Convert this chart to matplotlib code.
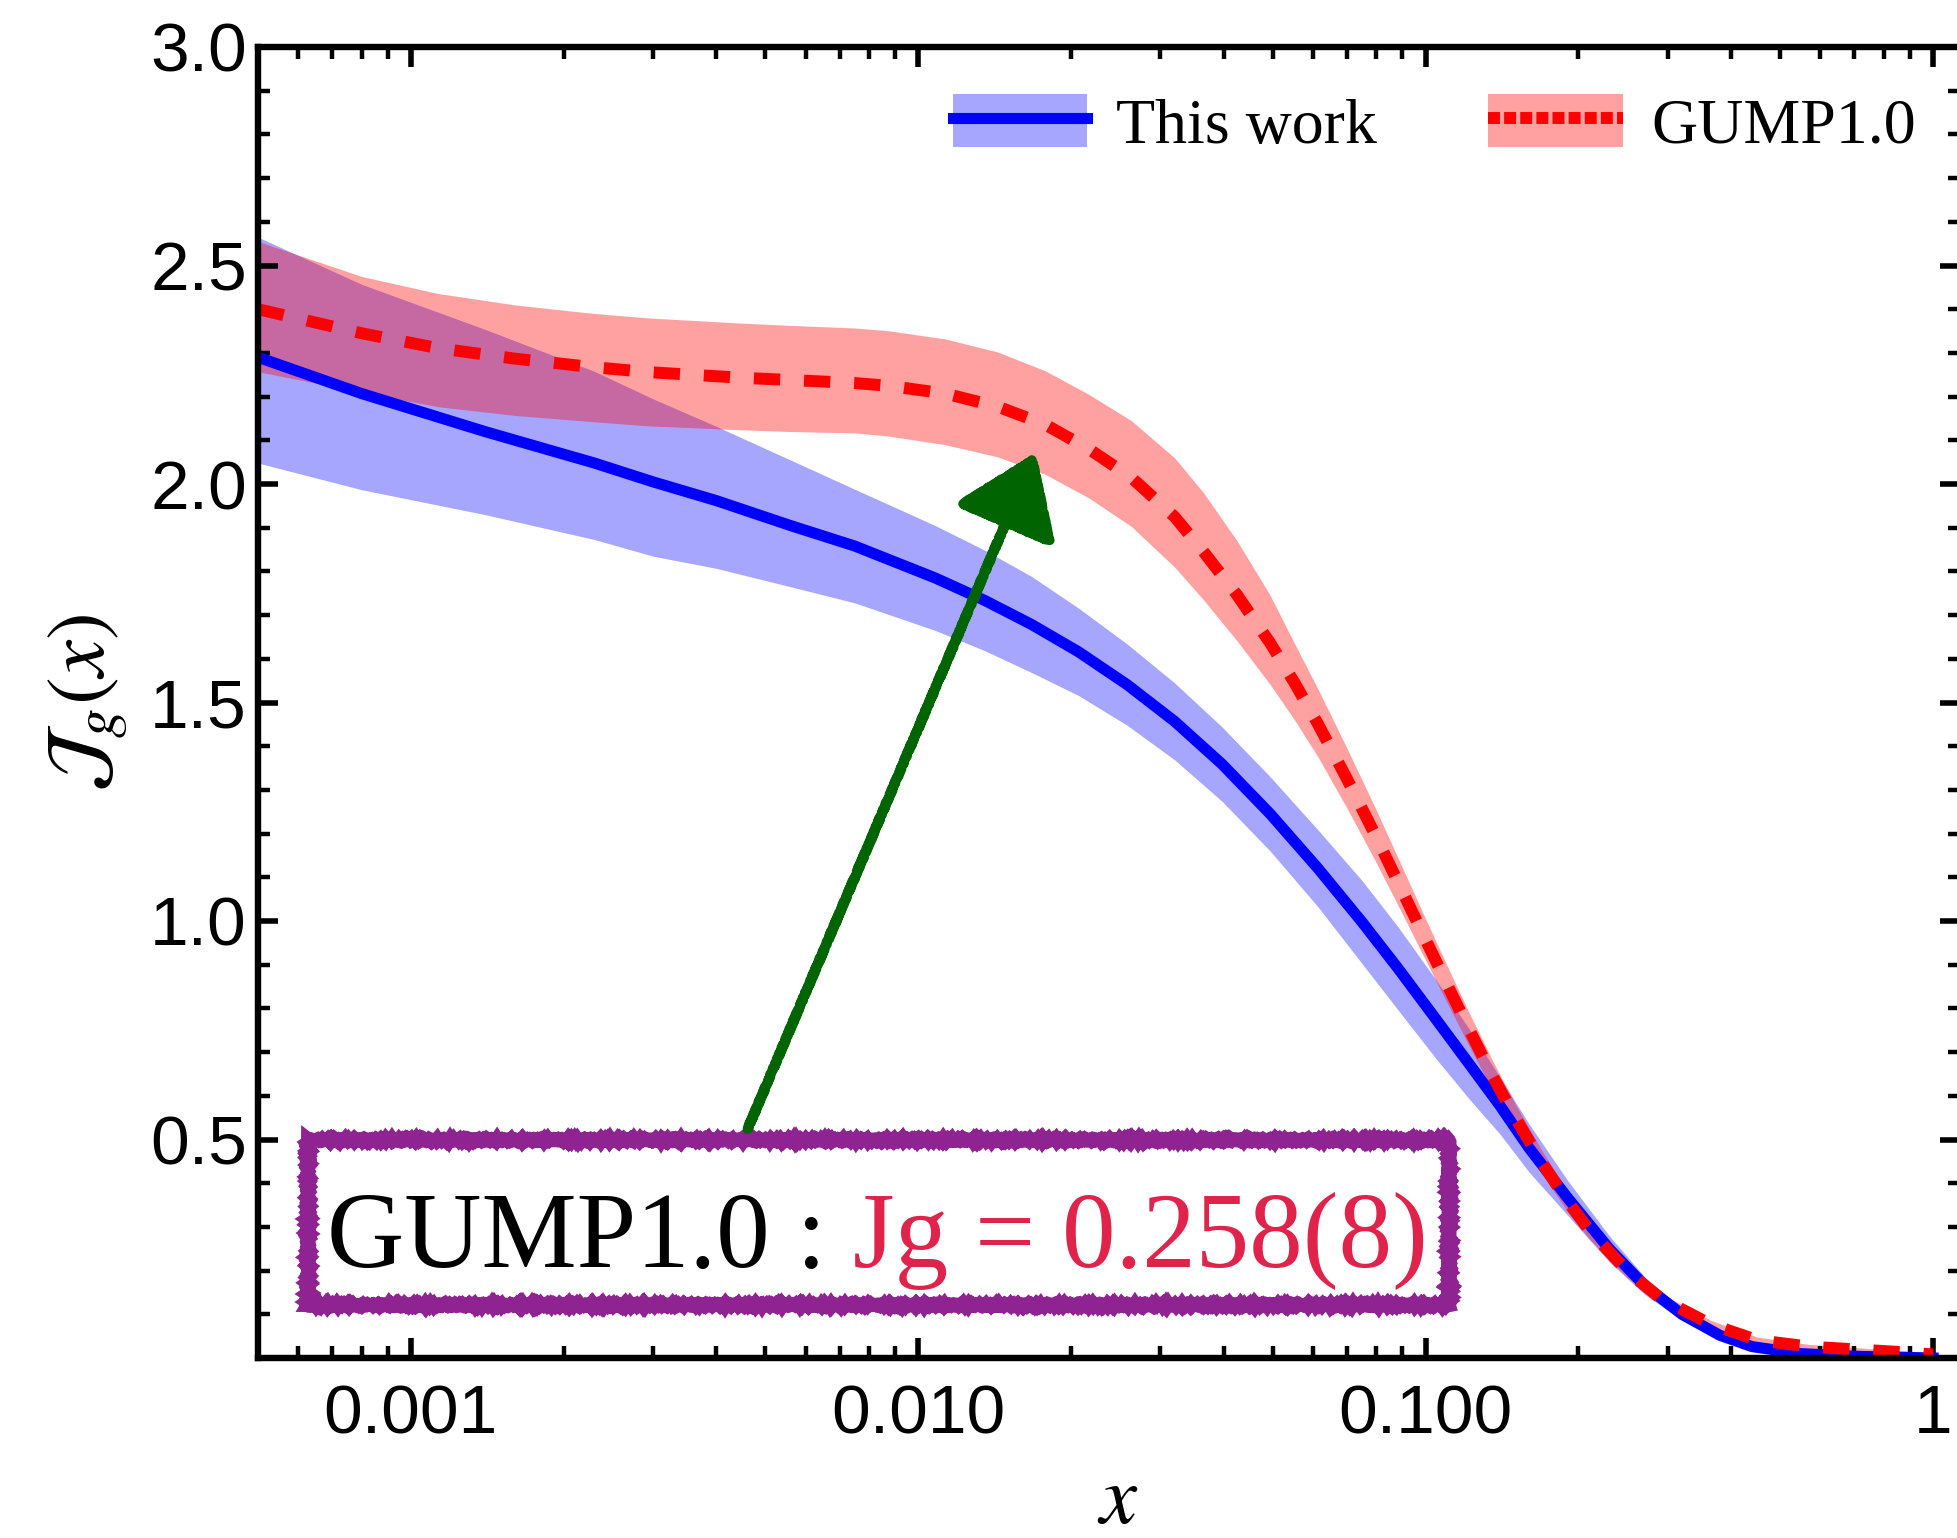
import numpy as np
import matplotlib
matplotlib.use("Agg")
import matplotlib.pyplot as plt
from matplotlib.patches import Patch, Rectangle
from matplotlib.lines import Line2D
from matplotlib.ticker import LogLocator, FixedLocator, MultipleLocator, NullFormatter

# -----------------------------
# Data
# -----------------------------
# This work (blue): central value and band edges
x_blue = [0.0005, 0.0008, 0.0014, 0.0023, 0.003, 0.004, 0.0056, 0.0075, 0.0108, 0.0135,
          0.0167, 0.0207, 0.0258, 0.032, 0.0397, 0.0494, 0.0614, 0.075, 0.0883, 0.105,
          0.122, 0.14, 0.16, 0.19, 0.23, 0.27, 0.32, 0.38, 0.44, 0.55, 0.7, 1.0]
jg_blue = [2.29, 2.207, 2.12, 2.048, 2.005, 1.962, 1.905, 1.858, 1.785, 1.734,
           1.679, 1.616, 1.541, 1.457, 1.359, 1.245, 1.12, 0.997, 0.891, 0.774,
           0.672, 0.578, 0.48, 0.368, 0.25, 0.166, 0.10, 0.052, 0.026, 0.01, 0.004, 0.0]
jg_blue_hi = [2.565, 2.457, 2.354, 2.258, 2.195, 2.132, 2.055, 1.988, 1.905, 1.849,
              1.789, 1.716, 1.634, 1.545, 1.444, 1.33, 1.208, 1.092, 0.986, 0.864,
              0.752, 0.643, 0.535, 0.408, 0.28, 0.186, 0.114, 0.061, 0.032, 0.014, 0.006, 0.0]
jg_blue_lo = [2.048, 1.987, 1.93, 1.873, 1.835, 1.807, 1.765, 1.728, 1.665, 1.619,
              1.569, 1.516, 1.448, 1.369, 1.274, 1.16, 1.032, 0.902, 0.796, 0.684,
              0.592, 0.513, 0.425, 0.328, 0.22, 0.146, 0.086, 0.043, 0.020, 0.006, 0.002, 0.0]

# GUMP1.0 (red): central value and band edges
x_red = [0.0005, 0.0008, 0.00113, 0.0016, 0.00226, 0.00294, 0.0045, 0.0056, 0.0075, 0.0087,
         0.0113, 0.01435, 0.0178, 0.0217, 0.0263, 0.032, 0.0365, 0.0425, 0.0494, 0.0551,
         0.0614, 0.070, 0.0797, 0.09, 0.1, 0.11, 0.12, 0.135, 0.15, 0.17,
         0.19, 0.21, 0.25, 0.29, 0.365, 0.45, 0.57, 0.72, 0.91, 1.0]
jg_red = [2.40, 2.345, 2.311, 2.287, 2.268, 2.256, 2.243, 2.238, 2.231, 2.225,
          2.207, 2.177, 2.136, 2.08, 2.015, 1.925, 1.845, 1.746, 1.636, 1.546,
          1.45, 1.325, 1.195, 1.068, 0.957, 0.857, 0.767, 0.649, 0.551, 0.445,
          0.36, 0.293, 0.198, 0.137, 0.077, 0.041, 0.026, 0.019, 0.012, 0.008]
jg_red_hi = [2.555, 2.475, 2.436, 2.41, 2.391, 2.38, 2.368, 2.363, 2.357, 2.351,
             2.332, 2.302, 2.259, 2.205, 2.145, 2.06, 1.98, 1.87, 1.745, 1.636,
             1.53, 1.395, 1.257, 1.122, 1.005, 0.90, 0.806, 0.684, 0.582, 0.472,
             0.384, 0.313, 0.214, 0.149, 0.086, 0.048, 0.031, 0.023, 0.015, 0.010]
jg_red_lo = [2.257, 2.21, 2.177, 2.157, 2.143, 2.133, 2.124, 2.12, 2.117, 2.11,
             2.09, 2.062, 2.022, 1.968, 1.903, 1.81, 1.735, 1.641, 1.541, 1.461,
             1.375, 1.258, 1.136, 1.016, 0.91, 0.815, 0.729, 0.615, 0.521, 0.419,
             0.337, 0.273, 0.183, 0.125, 0.068, 0.034, 0.021, 0.015, 0.009, 0.006]

xtick_vals = [0.001, 0.01, 0.1, 1]
xtick_labels = ["0.001", "0.010", "0.100", "1"]
ytick_vals = [0.5, 1.0, 1.5, 2.0, 2.5, 3.0]
ytick_labels = ["0.5", "1.0", "1.5", "2.0", "2.5", "3.0"]

label_this = "This work"
label_gump = "GUMP1.0"
note_black = "GUMP1.0 : "
note_red = "Jg = 0.258(8)"

# -----------------------------
# Figure
# -----------------------------
plt.rcParams["mathtext.fontset"] = "stix"
serif = ["Liberation Serif", "DejaVu Serif"]
sans = ["Liberation Sans", "DejaVu Sans"]

fig = plt.figure(figsize=(1957 / 200, 1538 / 200), dpi=200)
ax = fig.add_axes([258 / 1957, 1 - 1358 / 1538, (1960 - 258) / 1957, 1311 / 1538])

# bands and lines (red band drawn over the blue line, as in the reference)
ax.fill_between(x_blue, jg_blue_lo, jg_blue_hi, color="blue", alpha=0.35, lw=0)
ax.plot(x_blue, jg_blue, color="blue", lw=4.0, solid_joinstyle="round")
ax.fill_between(x_red, jg_red_lo, jg_red_hi, color="red", alpha=0.37, lw=0)
ax.plot(x_red, jg_red, color="red", lw=4.3, linestyle=(0, (2.2, 2.0)), dash_capstyle="butt")

ax.set_xscale("log")
ax.set_xlim(5e-4, 1.13)
ax.set_ylim(0, 3.0)

# ticks
ax.xaxis.set_major_locator(FixedLocator(xtick_vals))
ax.set_xticklabels(xtick_labels)
ax.xaxis.set_minor_locator(LogLocator(base=10, subs=np.arange(2, 10), numticks=20))
ax.xaxis.set_minor_formatter(NullFormatter())
ax.set_yticks(ytick_vals)
ax.set_yticklabels(ytick_labels)
ax.yaxis.set_minor_locator(MultipleLocator(0.1))

ax.tick_params(which="both", direction="in", top=True, right=True, colors="black")
ax.tick_params(which="major", length=7.2, width=2.0)
ax.tick_params(which="minor", length=4.3, width=1.6)
ax.tick_params(axis="x", which="major", pad=9)
ax.tick_params(axis="y", which="major", pad=4)
for t in ax.get_xticklabels() + ax.get_yticklabels():
    t.set_family(sans)
    t.set_fontsize(25)
for sp in ax.spines.values():
    sp.set_linewidth(2.3)

ax.set_ylabel(r"$\mathcal{J}_g(x)$", fontsize=30)
ax.yaxis.set_label_coords(-0.075, 0.5)
ax.set_xlabel(r"$x$", fontsize=30)
ax.xaxis.set_label_coords(0.505, -0.077)

# legend
h_this = (Patch(facecolor="blue", alpha=0.35, lw=0), Line2D([], [], color="blue", lw=4.0))
h_gump = (Patch(facecolor="red", alpha=0.37, lw=0),
          Line2D([], [], color="red", lw=4.3, linestyle=(0, (1.0, 0.35))))
leg = fig.legend([h_this, h_gump], [label_this, label_gump], ncol=2, frameon=False,
                 loc="upper right", bbox_to_anchor=(1916 / 1957, 1 - 94 / 1538),
                 borderpad=0, borderaxespad=0, handlelength=2.1, handleheight=0.9,
                 handletextpad=0.45, columnspacing=1.75,
                 prop={"family": serif, "size": 23})

# annotation box with the rough purple frame
box = Rectangle((0.0295, 0.0404), 0.700 - 0.0295, 0.1663 - 0.0404, transform=ax.transAxes,
                fill=False, edgecolor="#8E2391", lw=5.0, zorder=5)
box.set_sketch_params(scale=0.8, length=3, randomness=2)
ax.add_patch(box)

t1 = ax.text(0.0407, 0.0694, note_black, transform=ax.transAxes, fontsize=38.5,
             family=serif, color="black", va="baseline", ha="left", zorder=6)
ax.annotate(note_red, xy=(1, 0), xycoords=t1, va="bottom", ha="left", fontsize=38.5,
            family=serif, color="#E0234B", zorder=6)

# green hand-drawn arrow
arr = ax.annotate("", xy=(0.01703, 2.071), xytext=(0.00461, 0.524),
                  arrowprops=dict(arrowstyle="-|>,head_length=0.6,head_width=0.42",
                                  color="#006400", lw=3.5, mutation_scale=40,
                                  shrinkA=0, shrinkB=0), zorder=6)
arr.arrow_patch.set_sketch_params(scale=0.8, length=3, randomness=2)

fig.savefig("out.png", dpi=200)
